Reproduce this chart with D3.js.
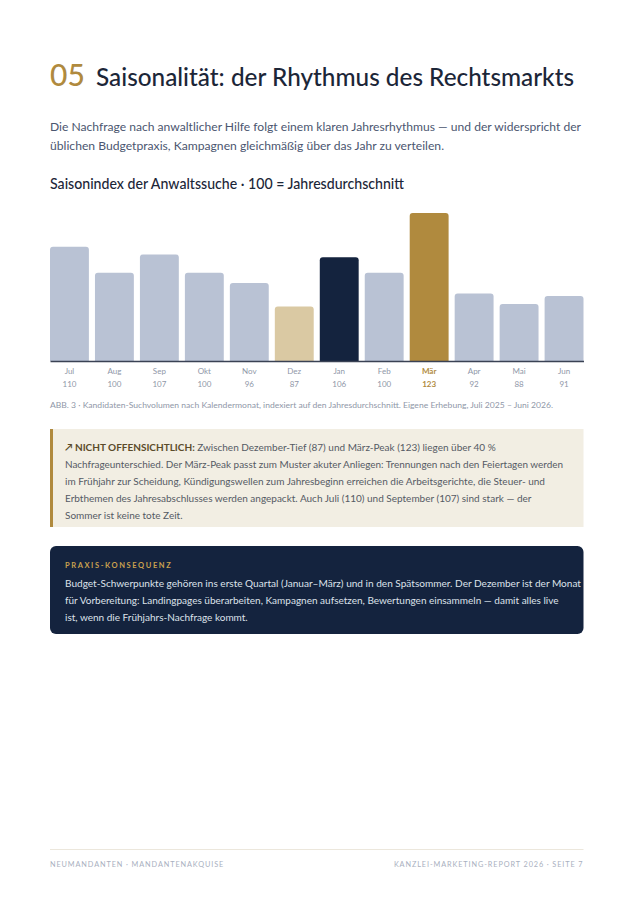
<!DOCTYPE html>
<html><head><meta charset="utf-8">
<script src="https://cdn.jsdelivr.net/npm/d3@7"></script>
<style>
html,body{margin:0;padding:0;background:#fff;}
svg{display:block;}
</style></head>
<body>
<svg id="c" width="636" height="900"></svg>
<script>
const months = ["Jul","Aug","Sep","Okt","Nov","Dez","Jan","Feb","Mär","Apr","Mai","Jun"];
const values = [110,100,107,100,96,87,106,100,123,92,88,91];
const highlightLow = "Dez";
const highlightMid = "Jan";
const highlightPeak = "Mär";

const introLines = [
  "Die Nachfrage nach anwaltlicher Hilfe folgt einem klaren Jahresrhythmus — und der widerspricht der",
  "üblichen Budgetpraxis, Kampagnen gleichmäßig über das Jahr zu verteilen."
];
const calloutLines = [
  ["Zwischen Dezember-Tief (87) und März-Peak (123) liegen über 40 %"],
  "Nachfrageunterschied. Der März-Peak passt zum Muster akuter Anliegen: Trennungen nach den Feiertagen werden",
  "im Frühjahr zur Scheidung, Kündigungswellen zum Jahresbeginn erreichen die Arbeitsgerichte, die Steuer- und",
  "Erbthemen des Jahresabschlusses werden angepackt. Auch Juli (110) und September (107) sind stark — der",
  "Sommer ist keine tote Zeit."
];
const praxisLines = [
  "Budget-Schwerpunkte gehören ins erste Quartal (Januar–März) und in den Spätsommer. Der Dezember ist der Monat",
  "für Vorbereitung: Landingpages überarbeiten, Kampagnen aufsetzen, Bewertungen einsammeln — damit alles live",
  "ist, wenn die Frühjahrs-Nachfrage kommt."
];

const svg = d3.select("#c");
const HEAD = "Lato, 'Noto Sans', sans-serif";
const BODY = "Lato, 'Noto Sans', sans-serif";
const NAVY = "#14233e", GOLD = "#b08a3e";

function fit(sel, w){ sel.attr("textLength", w).attr("lengthAdjust","spacingAndGlyphs"); }

// Heading
svg.append("text").attr("x",50).attr("y",86).attr("font-family",HEAD).attr("font-size",30)
  .attr("fill",GOLD).attr("font-weight",500).text("05");
svg.append("text").attr("x",96).attr("y",86).attr("font-family",HEAD).attr("font-size",25)
  .attr("fill","#1c2638").attr("font-weight",500).text("Saisonalität: der Rhythmus des Rechtsmarkts")
  .call(fit,478);

introLines.forEach((l,i)=>{
  const t = svg.append("text").attr("x",50).attr("y",131+i*19).attr("font-family",BODY).attr("font-size",12.15)
    .attr("fill","#4b5670").text(l);
  if(i===0) fit(t,531);
});

svg.append("text").attr("x",50).attr("y",189).attr("font-family",HEAD).attr("font-size",15)
  .attr("fill","#1c2638").attr("font-weight",500).text("Saisonindex der Anwaltssuche · 100 = Jahresdurchschnitt")
  .call(fit,354);

// Chart
const x = d3.scaleBand().domain(months).range([50,583.5]).paddingInner(0.135).paddingOuter(0);
const y = d3.scaleLinear().domain([66,123]).range([361,213]);
const r = 3;
function barColor(m){
  if(m===highlightPeak) return GOLD;
  if(m===highlightMid) return NAVY;
  if(m===highlightLow) return "#dac9a3";
  return "#b9c2d4";
}
const data = months.map((m,i)=>({m, v:values[i]}));
svg.append("g").selectAll("path").data(data).join("path")
  .attr("fill",d=>barColor(d.m))
  .attr("d",d=>{
    const x0=x(d.m), w=x.bandwidth(), y0=y(d.v), yb=y(66);
    return `M${x0},${yb}V${y0+r}Q${x0},${y0} ${x0+r},${y0}H${x0+w-r}Q${x0+w},${y0} ${x0+w},${y0+r}V${yb}Z`;
  });

const axis = d3.axisBottom(x).tickSize(0).tickPadding(0).tickFormat("");
const ag = svg.append("g").attr("transform",`translate(0,${y(66)})`).call(axis);
ag.select(".domain").attr("stroke","#3a4254").attr("stroke-width",1.5);

const labels = svg.append("g").selectAll("g").data(data).join("g")
  .attr("transform",d=>`translate(${x(d.m)+x.bandwidth()/2},0)`);
labels.append("text").attr("y",374).attr("text-anchor","middle").attr("font-family",BODY)
  .attr("font-size",8).attr("fill",d=>d.m===highlightPeak?GOLD:"#8f97a8")
  .attr("font-weight",d=>d.m===highlightPeak?700:400).text(d=>d.m);
labels.append("text").attr("y",387).attr("text-anchor","middle").attr("font-family",BODY)
  .attr("font-size",8).attr("fill",d=>d.m===highlightPeak?GOLD:"#8f97a8")
  .attr("font-weight",d=>d.m===highlightPeak?700:400).text(d=>d.v);

svg.append("text").attr("x",50).attr("y",408).attr("font-family",BODY).attr("font-size",7.5)
  .attr("fill","#8f97a8").text("ABB. 3 · Kandidaten-Suchvolumen nach Kalendermonat, indexiert auf den Jahresdurchschnitt. Eigene Erhebung, Juli 2025 – Juni 2026.")
  .call(fit,503);

// Callout
svg.append("rect").attr("x",50).attr("y",429).attr("width",533.5).attr("height",98).attr("fill","#f2eee3");
svg.append("rect").attr("x",50).attr("y",429).attr("width",3).attr("height",98).attr("fill",GOLD);
const cl = svg.append("g").attr("font-family",BODY).attr("font-size",10).attr("fill","#555a63");
calloutLines.forEach((l,i)=>{
  const t = cl.append("text").attr("x",65).attr("y",451+i*17);
  if(Array.isArray(l)){
    t.append("tspan").attr("font-weight",700).attr("fill","#5b4b2a").text("↗ NICHT OFFENSICHTLICH: ");
    t.append("tspan").text(l[0]);
  } else t.text(l);
  if(i===1) fit(t,498);
});

// Praxis box
svg.append("rect").attr("x",50).attr("y",546).attr("width",533.5).attr("height",88).attr("rx",6).attr("fill",NAVY);
svg.append("text").attr("x",65).attr("y",568).attr("font-family",BODY).attr("font-size",7.5)
  .attr("font-weight",700).attr("letter-spacing",1.6).attr("fill","#c9a14e").text("PRAXIS-KONSEQUENZ");
praxisLines.forEach((l,i)=>{
  const t = svg.append("text").attr("x",65).attr("y",587+i*17).attr("font-family",BODY).attr("font-size",10)
    .attr("fill","#dde2ea").text(l);
  if(i===0) fit(t,516);
});

// Footer
svg.append("line").attr("x1",50).attr("x2",583.5).attr("y1",849.5).attr("y2",849.5).attr("stroke","#ece7dc");
svg.append("text").attr("x",50).attr("y",867).attr("font-family",BODY).attr("font-size",7.3)
  .attr("letter-spacing",0.9).attr("fill","#a9b0c0").text("NEUMANDANTEN · MANDANTENAKQUISE");
svg.append("text").attr("x",583.5).attr("y",867).attr("text-anchor","end").attr("font-family",BODY).attr("font-size",7.3)
  .attr("letter-spacing",0.9).attr("fill","#a9b0c0").text("KANZLEI-MARKETING-REPORT 2026 · SEITE 7");
</script>
</body></html>
